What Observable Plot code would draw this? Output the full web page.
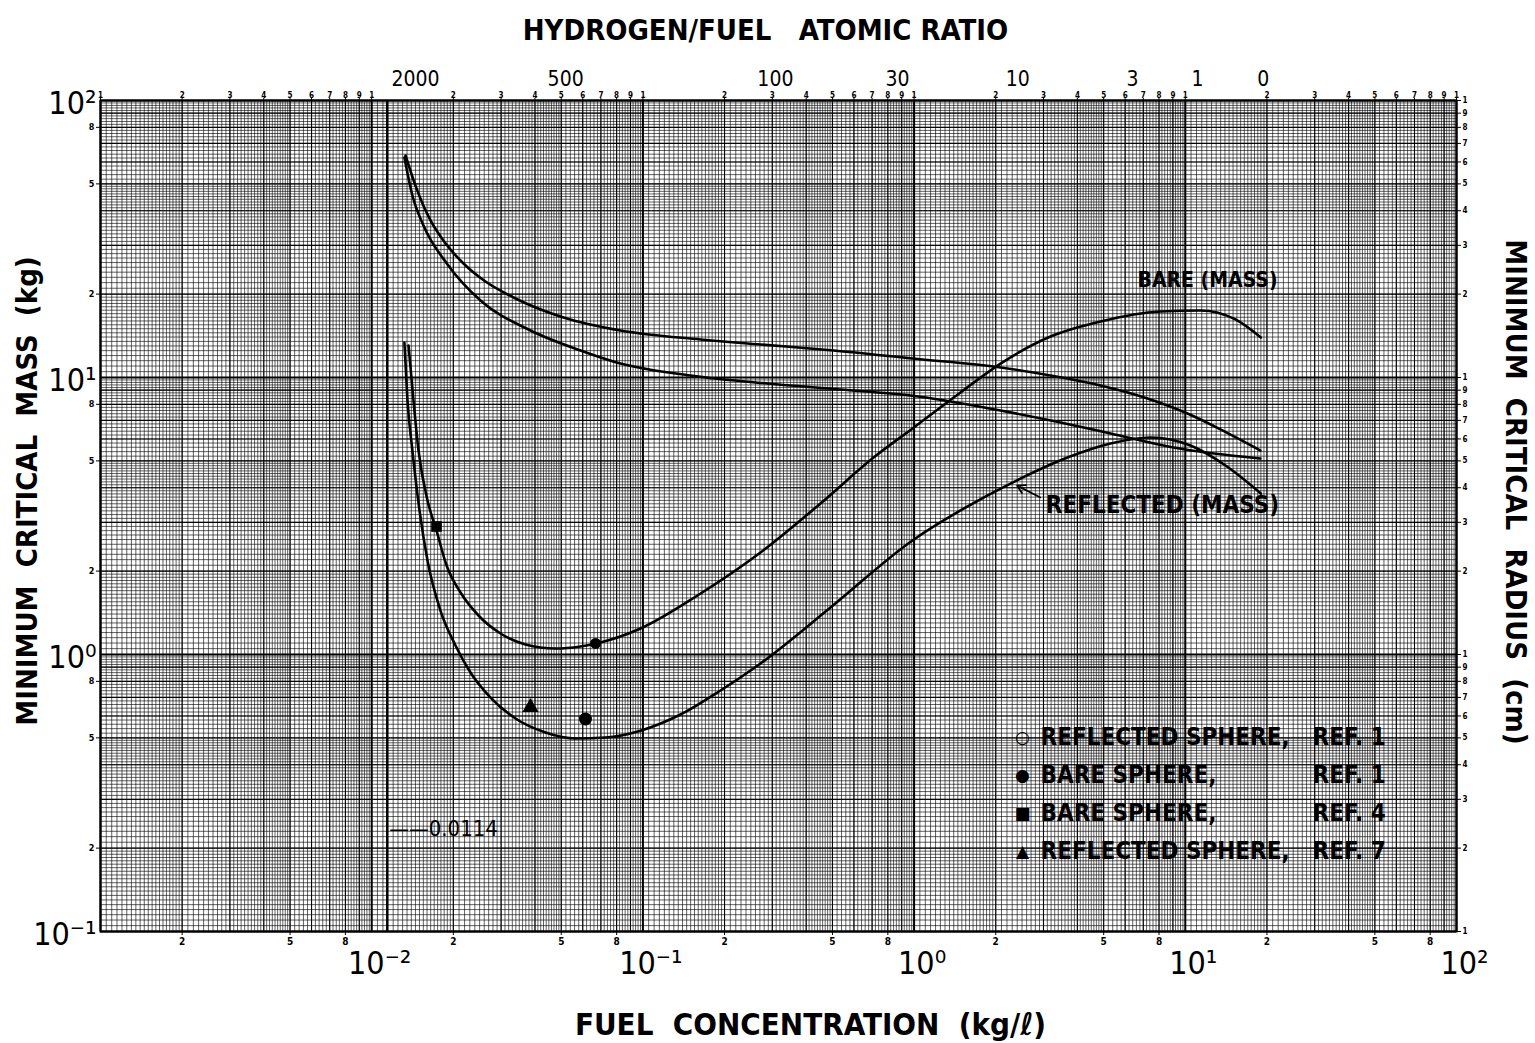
<!DOCTYPE html>
<html><head><meta charset="utf-8">
<script src="https://cdn.jsdelivr.net/npm/d3@7"></script>
<script src="https://cdn.jsdelivr.net/npm/@observablehq/plot@0.6"></script>
<style>
body{margin:0;background:#fff}
#chart svg{font-family:"DejaVu Sans Condensed","DejaVu Sans",sans-serif}
</style>
</head><body><div id="chart"></div>
<script>
// ---- data ----
// Bare sphere, minimum critical mass (kg) vs fuel concentration (kg/l)
const bareMassConc = [0.01367,0.01426,0.01488,0.01606,0.01734,0.01887,0.02126,0.02476,0.02985,0.03690,0.04761,0.05888,0.06977,0.09799,0.1590,0.2714,0.4518,0.7086,0.9865,1.483,2.083,3.184,4.867,8.10,11.38,15.31,19.0];
const bareMassKg   = [13.05,8.26,5.45,3.60,2.80,2.10,1.674,1.383,1.191,1.087,1.051,1.069,1.105,1.241,1.633,2.334,3.509,5.14,6.545,8.83,11.23,14.06,15.93,17.31,17.46,16.20,13.94];
// Reflected sphere, minimum critical mass (kg)
const reflMassConc = [0.01320,0.01355,0.01413,0.01501,0.01606,0.01793,0.02037,0.02313,0.02743,0.03390,0.04374,0.05642,0.07279,0.09799,0.1376,0.1932,0.2714,0.4918,0.9865,1.483,2.267,3.678,5.30,7.441,10.45,14.07,19.0];
const reflMassKg   = [13.38,8.26,5.45,3.31,2.185,1.441,1.078,0.861,0.699,0.5875,0.5231,0.4975,0.5016,0.531,0.6072,0.7413,0.928,1.478,2.58,3.311,4.14,5.14,5.776,6.072,5.68,4.81,3.81];
// Bare sphere, minimum critical radius (cm)
const bareRadConc = [0.01333,0.01450,0.01648,0.01871,0.02180,0.02628,0.03334,0.05097,0.08267,0.1631,0.2714,0.5045,0.9865,2.083,3.184,4.867,7.254,10.19,13.71,18.9];
const bareRadCm   = [63.3,49.3,36.9,30.5,25.8,22.2,19.45,16.47,14.78,13.72,13.16,12.52,11.71,10.87,10.17,9.36,8.40,7.41,6.44,5.45];
// Reflected sphere, minimum critical radius (cm)
const reflRadConc = [0.01320,0.01413,0.01552,0.01904,0.02519,0.03851,0.05888,0.08267,0.1498,0.2880,0.5354,0.9699,2.083,3.466,5.30,9.05,18.9];
const reflRadCm   = [62.3,45.4,35.4,25.6,18.97,14.78,12.52,11.23,10.17,9.51,9.05,8.61,7.60,6.88,6.28,5.59,5.10];
// Experimental points
const reflRef1 = [{c:0.0614, v:0.585}];
const bareRef1 = [{c:0.0669, v:1.096}];
const bareRef4 = [{c:0.01734, v:2.898}];
const reflRef7 = [{c:0.0385, v:0.644}];
// Minimum critical concentration
const minConc = 0.0114;
// Hydrogen/fuel atomic ratio (top scale)
const huLabels = ["2000","500","100","30","10","3","1","0"];
const huConc   = [0.0145,0.0519,0.308,0.869,2.41,6.39,11.1,19.4];
// Legend
const legendSym   = ["○","●","■","▲"];
const legendLabel = ["REFLECTED SPHERE,","BARE SPHERE,","BARE SPHERE,","REFLECTED SPHERE,"];
const legendRef   = ["REF. 1","REF. 1","REF. 4","REF. 7"];

// ---- tables ----
const zipT = (cs, vs) => cs.map((c,i)=>({c, v:vs[i]}));
const bareMass = zipT(bareMassConc, bareMassKg);
const reflMass = zipT(reflMassConc, reflMassKg);
const bareRad = zipT(bareRadConc, bareRadCm);
const reflRad = zipT(reflRadConc, reflRadCm);

// ---- graph-paper grid values ----
function fineTicks(lo, hi){
  const t=[];
  for(let e=lo;e<hi;e++){
    const b=10**e;
    for(let k=0;k<20;k++) t.push((1+k*0.05)*b);
    for(let k=0;k<30;k++) t.push((2+k*0.1)*b);
    for(let k=0;k<25;k++) t.push((5+k*0.2)*b);
  }
  return t;
}
function mantTicks(lo, hi, ms, last=true){
  const t=[];
  for(let e=lo;e<hi;e++) for(const m of ms) t.push(m*10**e);
  if (last) t.push(10**hi);
  return t;
}
const decTicks = (lo,hi)=>d3.range(lo,hi+1).map(e=>10**e);
const mant = v => Math.round(v/10**Math.floor(Math.log10(v)+1e-9));
const sup = {"-":"⁻","0":"⁰","1":"¹","2":"²","3":"³"};
const pow = v => { const e=Math.round(Math.log10(v)); return "10"+String(e).split("").map(ch=>sup[ch]).join(""); };
const blank = () => "";

const gridStyle = {stroke:"#000", strokeOpacity:0.78, strokeWidth:0.8};
const midStyle = {stroke:"#000", strokeOpacity:0.95, strokeWidth:1.1};
const decStyle = {stroke:"#000", strokeOpacity:1, strokeWidth:2};
const lineStyle = {x:"c", y:"v", curve:"monotone-x", stroke:"#000", strokeWidth:2.6};
const font = "DejaVu Sans Condensed";
const T = {fontFamily:font, fill:"#000"};

const topTicks = mantTicks(-3,2,[1,2,3,4,5,6,7,8,9]);
const botMinor = mantTicks(-3,2,[2,5,8],false);
const leftMinor = mantTicks(-1,2,[2,5,8],false);
const rightTicks = mantTicks(-1,2,[1,2,3,4,5,6,7,8,9]);

const marks = [
  Plot.gridX(fineTicks(-3,2), gridStyle),
  Plot.gridY(fineTicks(-1,2), gridStyle),
  Plot.gridX(mantTicks(-3,2,[2,3,4,5,6,7,8,9]), midStyle),
  Plot.gridY(mantTicks(-1,2,[2,3,4,5,6,7,8,9]), midStyle),
  Plot.gridX(decTicks(-3,2), decStyle),
  Plot.gridY(decTicks(-1,2), decStyle),
  Plot.ruleX([minConc], {stroke:"#000", strokeWidth:2.2}),
  Plot.frame({stroke:"#000", strokeWidth:2}),

  Plot.line(bareMass, lineStyle),
  Plot.line(reflMass, lineStyle),
  Plot.line(bareRad, lineStyle),
  Plot.line(reflRad, lineStyle),

  Plot.dot(reflRef1, {x:"c", y:"v", r:5, stroke:"#000", strokeWidth:3, fill:"#000"}),
  Plot.dot(bareRef1, {x:"c", y:"v", r:5.5, fill:"#000"}),
  Plot.dot(bareRef4, {x:"c", y:"v", r:6, symbol:"square", fill:"#000"}),
  Plot.dot(reflRef7, {x:"c", y:"v", r:6, symbol:"triangle", fill:"#000"}),

  // curve annotations
  Plot.text([{c:12.08, v:22.4, t:"BARE (MASS)"}], {x:"c", y:"v", text:"t", fontSize:21, fontWeight:"bold", ...T}),
  Plot.text([{c:8.24, v:3.45, t:"REFLECTED (MASS)"}], {x:"c", y:"v", text:"t", fontSize:24, fontWeight:"bold", ...T}),
  Plot.arrow([{x1:2.92, y1:3.69, x2:2.40, y2:4.07}], {x1:"x1", y1:"y1", x2:"x2", y2:"y2", stroke:"#000", strokeWidth:1.8, headLength:8}),
  Plot.text([{c:minConc, v:0.2355, t:"——0.0114"}], {x:"c", y:"v", text:"t", textAnchor:"start", dx:2, fontSize:22, ...T}),

  // tick marks (no labels)
  Plot.axisX(topTicks, {anchor:"top", tickSize:3, tickFormat:blank, label:null}),
  Plot.axisX(botMinor, {anchor:"bottom", tickSize:4, tickFormat:blank, label:null}),
  Plot.axisY(leftMinor, {anchor:"left", tickSize:4, tickFormat:blank, label:null}),
  Plot.axisY(rightTicks, {anchor:"right", tickSize:4, tickFormat:blank, label:null}),

  // tick labels
  Plot.text(decTicks(-1,2), {y:d=>d, text:pow, frameAnchor:"left", textAnchor:"end", lineAnchor:"middle", dx:-4, dy:3, fontSize:32, ...T}),
  Plot.text(leftMinor, {y:d=>d, text:mant, frameAnchor:"left", textAnchor:"end", lineAnchor:"middle", dx:-6, fontSize:9, fontWeight:"bold", ...T}),
  Plot.text(rightTicks, {y:d=>d, text:mant, frameAnchor:"right", textAnchor:"start", lineAnchor:"middle", dx:6, fontSize:8, fontWeight:"bold", ...T}),
  Plot.text(decTicks(-2,2), {x:d=>d, text:pow, frameAnchor:"bottom", textAnchor:"middle", lineAnchor:"top", dx:8, dy:20, fontSize:32, ...T}),
  Plot.text(botMinor, {x:d=>d, text:mant, frameAnchor:"bottom", textAnchor:"middle", lineAnchor:"top", dy:6, fontSize:10, fontWeight:"bold", ...T}),
  Plot.text(topTicks, {x:d=>d, text:mant, frameAnchor:"top", textAnchor:"middle", lineAnchor:"bottom", dy:-3, fontSize:8, fontWeight:"bold", ...T}),
  Plot.text(huConc, {x:d=>d, text:(d,i)=>huLabels[i], frameAnchor:"top", textAnchor:"middle", lineAnchor:"bottom", dy:-15, fontSize:21, ...T}),

  // titles
  Plot.text(["HYDROGEN/FUEL   ATOMIC RATIO"], {frameAnchor:"top", textAnchor:"middle", lineAnchor:"middle", dy:-70, dx:-13, fontSize:29, fontWeight:"bold", ...T}),
  Plot.text(["FUEL  CONCENTRATION  (kg/ℓ)"], {frameAnchor:"bottom", textAnchor:"middle", lineAnchor:"middle", dy:94, dx:32, fontSize:31, fontWeight:"bold", ...T}),
  Plot.text(["MINIMUM  CRITICAL  MASS  (kg)"], {frameAnchor:"left", textAnchor:"middle", lineAnchor:"middle", dx:-73, dy:-25, rotate:-90, fontSize:29, fontWeight:"bold", ...T}),
  Plot.text(["MINIMUM  CRITICAL  RADIUS  (cm)"], {frameAnchor:"right", textAnchor:"middle", lineAnchor:"middle", dx:59, dy:-24, rotate:90, fontSize:29, fontWeight:"bold", ...T})
];

// legend rows inside the frame
legendLabel.forEach((lab, i) => {
  const dy = 637 + i*38;
  marks.push(Plot.text([legendSym[i]], {frameAnchor:"top-left", textAnchor:"middle", lineAnchor:"middle", dx:922, dy, fontSize:17, fontFamily:"DejaVu Sans", fill:"#000"}));
  marks.push(Plot.text([lab], {frameAnchor:"top-left", textAnchor:"start", lineAnchor:"middle", dx:940, dy, fontSize:24, fontWeight:"bold", ...T}));
  marks.push(Plot.text([legendRef[i]], {frameAnchor:"top-left", textAnchor:"start", lineAnchor:"middle", dx:1212, dy, fontSize:24, fontWeight:"bold", ...T}));
});

const chart = Plot.plot({
  width:1535, height:1043,
  marginLeft:100, marginRight:79, marginTop:100, marginBottom:112,
  x:{type:"log", domain:[1e-3,1e2], axis:null},
  y:{type:"log", domain:[1e-1,1e2], axis:null},
  style:{background:"#fff", color:"#000", fontFamily:font},
  marks
});
document.getElementById("chart").appendChild(chart);
</script>
</body></html>
